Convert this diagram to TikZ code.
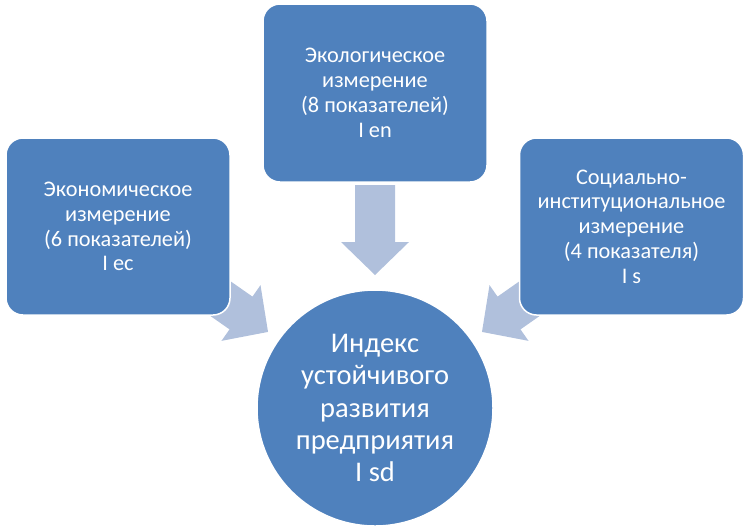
\documentclass[tikz,border=0pt]{standalone}
\usepackage{fontspec}
\setmainfont{Carlito}
\definecolor{boxblue}{RGB}{79,129,189}
\definecolor{arrowblue}{RGB}{176,192,220}
\begin{document}
\begin{tikzpicture}[x=1pt,y=-1pt,
  dimbox/.style={draw=white, line width=1.5pt, fill=boxblue, rounded corners=17pt,
    text=white, align=center, inner sep=0pt, minimum width=224pt, minimum height=177pt,
    font=\fontsize{22.3}{24.8}\selectfont},
  indexcircle/.style={circle, draw=white, line width=1.5pt, fill=boxblue, text=white,
    align=center, inner sep=0pt, minimum size=236pt, font=\fontsize{28.5}{32.2}\selectfont},
  blockarrow/.pic={\fill[arrowblue] (0,-20) -- (57,-20) -- (57,-34) -- (90,0) -- (57,34) -- (57,20) -- (0,20) -- cycle;}
]
\useasboundingbox (0,0) rectangle (751,528);
% arrows (behind shapes)
\pic (arrTop) [rotate=-90] at (375,185) {blockarrow};
\pic (arrLeft) [rotate=-35] at (194.3,280.3) {blockarrow};
\pic (arrRight) [rotate=-145] at (555.7,280.3) {blockarrow};
% shapes
\node[dimbox] (econ) at (118,226.5) {Экономическое\\измерение\\(6 показателей)\\I ec};
\node[dimbox, minimum height=178pt] (eco) at (375,93) {Экологическое\\измерение\\(8 показателей)\\I en};
\node[dimbox] (soc) at (631.5,226.5) {Социально-\\институциональное\\измерение\\(4 показателя)\\I s};
\node[indexcircle] (isd) at (375,408) {Индекс\\устойчивого\\развития\\предприятия\\I sd};
\end{tikzpicture}
\end{document}
